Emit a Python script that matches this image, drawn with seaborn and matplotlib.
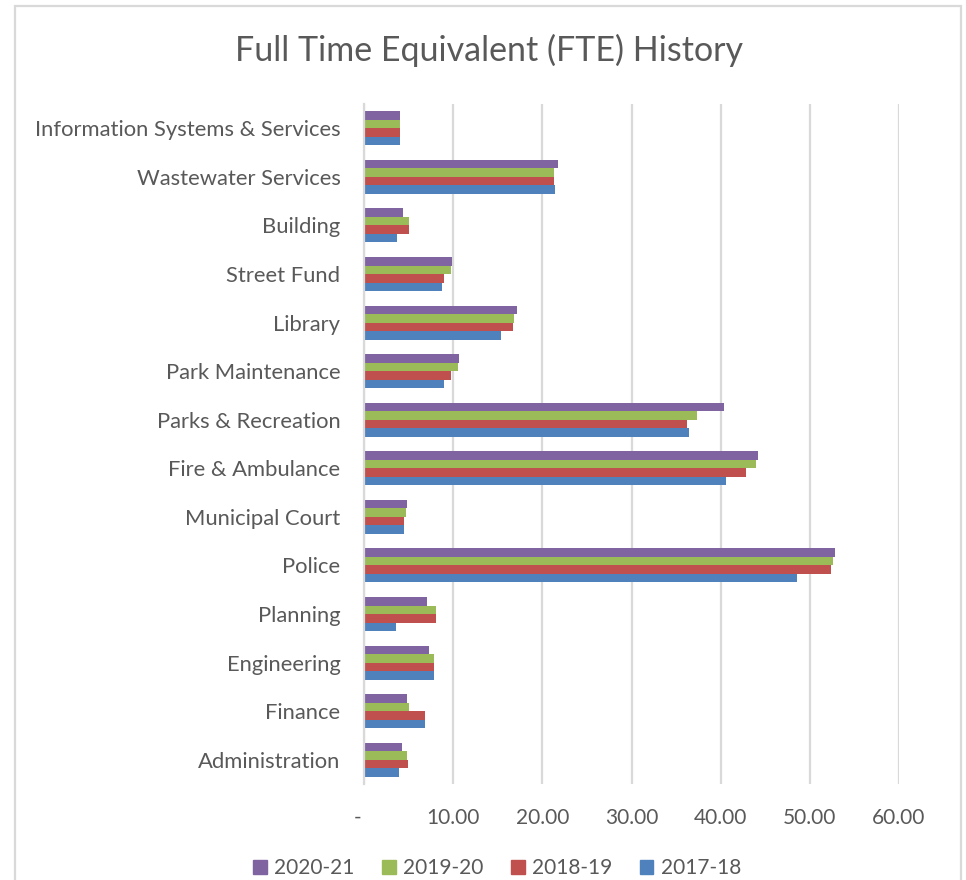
import matplotlib
matplotlib.use("Agg")
import matplotlib.pyplot as plt
import matplotlib.transforms as mtransforms
from matplotlib.patches import Rectangle
import seaborn as sns
import pandas as pd

categories = ["Information Systems & Services", "Wastewater Services", "Building",
              "Street Fund", "Library", "Park Maintenance", "Parks & Recreation",
              "Fire & Ambulance", "Municipal Court", "Police", "Planning",
              "Engineering", "Finance", "Administration"]
years = ["2020-21", "2019-20", "2018-19", "2017-18"]
fte_2020_21 = [4.0, 21.8, 4.4, 9.9, 17.2, 10.6, 40.4, 44.2, 4.8, 52.8, 7.1, 7.3, 4.8, 4.3]
fte_2019_20 = [4.0, 21.3, 5.0, 9.8, 16.8, 10.5, 37.4, 44.0, 4.7, 52.6, 8.1, 7.8, 5.0, 4.8]
fte_2018_19 = [4.0, 21.3, 5.0, 9.0, 16.7, 9.8, 36.2, 42.8, 4.5, 52.4, 8.1, 7.8, 6.8, 4.9]
fte_2017_18 = [4.0, 21.4, 3.7, 8.8, 15.4, 9.0, 36.4, 40.6, 4.5, 48.6, 3.6, 7.9, 6.8, 3.9]
x_ticks = [0, 10, 20, 30, 40, 50, 60]
x_labels = ["-", "10.00", "20.00", "30.00", "40.00", "50.00", "60.00"]
colors = ["#8064A2", "#9BBB59", "#C0504D", "#4F81BD"]

series = [fte_2020_21, fte_2019_20, fte_2018_19, fte_2017_18]
rows = []
for yr, vals in zip(years, series):
    for cat, v in zip(categories, vals):
        rows.append({"Department": cat, "Year": yr, "FTE": v})
df = pd.DataFrame(rows)

sns.set_style("white")
plt.rcParams["font.family"] = ["Lato", "DejaVu Sans"]
txt = "#595959"
grid = "#D9D9D9"

W, H = 966, 880
fig = plt.figure(figsize=(W / 100, H / 100), dpi=100)
ax = fig.add_axes([364 / W, 1 - 784 / H, (899 - 364) / W, (784 - 104) / H])

sns.barplot(data=df, x="FTE", y="Department", hue="Year", hue_order=years,
            order=categories, palette=colors, orient="h", width=0.7,
            saturation=1, ax=ax, errorbar=None, linewidth=0)

ax.set_xlim(0, 60)
ax.set_ylim(13.5, -0.5)
ax.set_xticks(x_ticks)
ax.set_xticklabels(x_labels)
ax.set_xlabel("")
ax.set_ylabel("")
ax.xaxis.grid(True, color=grid, linewidth=1.6)
ax.yaxis.grid(False)
ax.set_axisbelow(True)
for s in ["top", "right", "bottom"]:
    ax.spines[s].set_visible(False)
ax.spines["left"].set_color(grid)
ax.spines["left"].set_linewidth(1.6)
ax.tick_params(axis="x", length=0, pad=17, labelsize=15, labelcolor=txt)
ax.tick_params(axis="y", length=0, pad=17, labelsize=15.8, labelcolor=txt)

# shift the "-" zero label slightly left, as in accounting format
lbl0 = ax.get_xticklabels()[0]
lbl0.set_transform(lbl0.get_transform() + mtransforms.ScaledTranslation(-6 / 100, 0, fig.dpi_scale_trans))

ax.get_legend().remove()
handles = [Rectangle((0, 0), 1, 1, color=c) for c in colors]
leg = fig.legend(handles, years, loc="center", bbox_to_anchor=(497 / W, 1 - 868 / H),
                 ncol=4, frameon=False, fontsize=15, handlelength=0.65, handleheight=0.65,
                 handletextpad=0.35, columnspacing=1.33, labelcolor=txt)

fig.text(489 / W, 1 - 50 / H, "Full Time Equivalent (FTE) History", ha="center", va="center",
         fontsize=24.5, color=txt)

fig.patches.append(Rectangle((15 / W, -0.02), (961 - 15) / W, (H - 6) / H + 0.02,
                             transform=fig.transFigure, fill=False, edgecolor=grid, linewidth=1.6))

fig.savefig("out.png", dpi=100)
